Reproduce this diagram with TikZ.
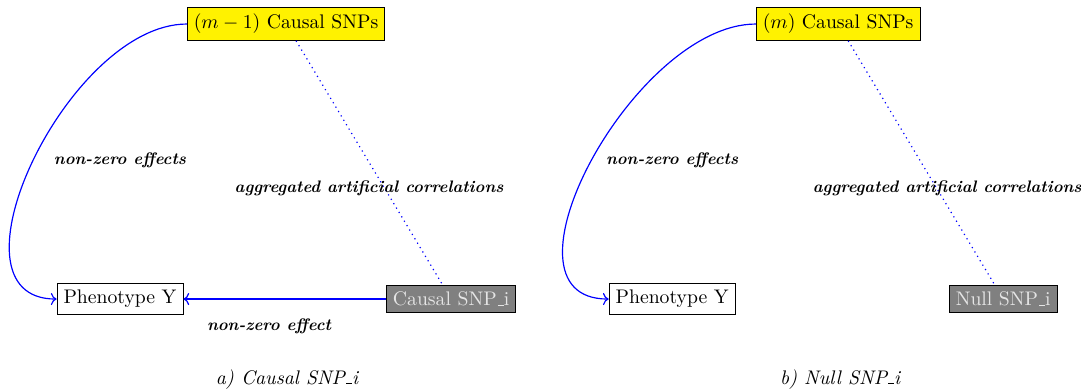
\documentclass[tikz,border=0pt]{standalone}
\usepackage{amsmath,amssymb}
\usepackage{tikz}
\usetikzlibrary{arrows.meta}
\newcommand{\lowbar}{\leavevmode\kern.06em\vbox{\hrule width.3em}}
\tikzset{%
    snpset/.style={draw, fill=yellow},
    pheno/.style={draw, fill=white},
    snpi/.style={draw, fill=gray, text=white!90!black},
    effect/.style={blue, semithick, ->},
    corr/.style={blue, semithick, dotted},
    lbl/.style={font=\fontsize{8.45pt}{10pt}\selectfont\bfseries\itshape}
}

\begin{document}
\begin{tikzpicture}
\useasboundingbox (0,0) rectangle (19.30,-6.96);
% a) causal SNP
\node[snpset] (topA) at (5.107,-0.429) {$(m-1)$ Causal SNPs};
\node[pheno] (phenA) at (2.143,-5.339) {Phenotype Y};
\node[snpi] (snpA) at (8.054,-5.339) {Causal SNP\lowbar i};
\draw[effect] (topA) to[out=180,in=180] (phenA);
\draw[effect] (snpA) -- (phenA);
\draw[corr] (topA) -- (snpA);
\node[lbl] (effA) at (2.143,-2.857) {non-zero effects};
\node[lbl] (corrA) at (6.589,-3.357) {aggregated artificial correlations};
\node[lbl] (oneA) at (4.804,-5.821) {non-zero effect};
\node[font=\itshape] (capA) at (5.125,-6.768) {a) Causal SNP\lowbar i};
% b) null SNP
\node[snpset] (topB) at (14.964,-0.429) {$(m)$ Causal SNPs};
\node[pheno] (phenB) at (12.0,-5.339) {Phenotype Y};
\node[snpi] (snpB) at (17.911,-5.339) {Null SNP\lowbar i};
\draw[effect] (topB) to[out=180,in=180] (phenB);
\draw[corr] (topB) -- (snpB);
\node[lbl] (effB) at (12.0,-2.857) {non-zero effects};
\node[lbl] (corrB) at (16.911,-3.357) {aggregated artificial correlations};
\node[font=\itshape] (capB) at (15.0,-6.768) {b) Null SNP\lowbar i};
\end{tikzpicture}
\end{document}
